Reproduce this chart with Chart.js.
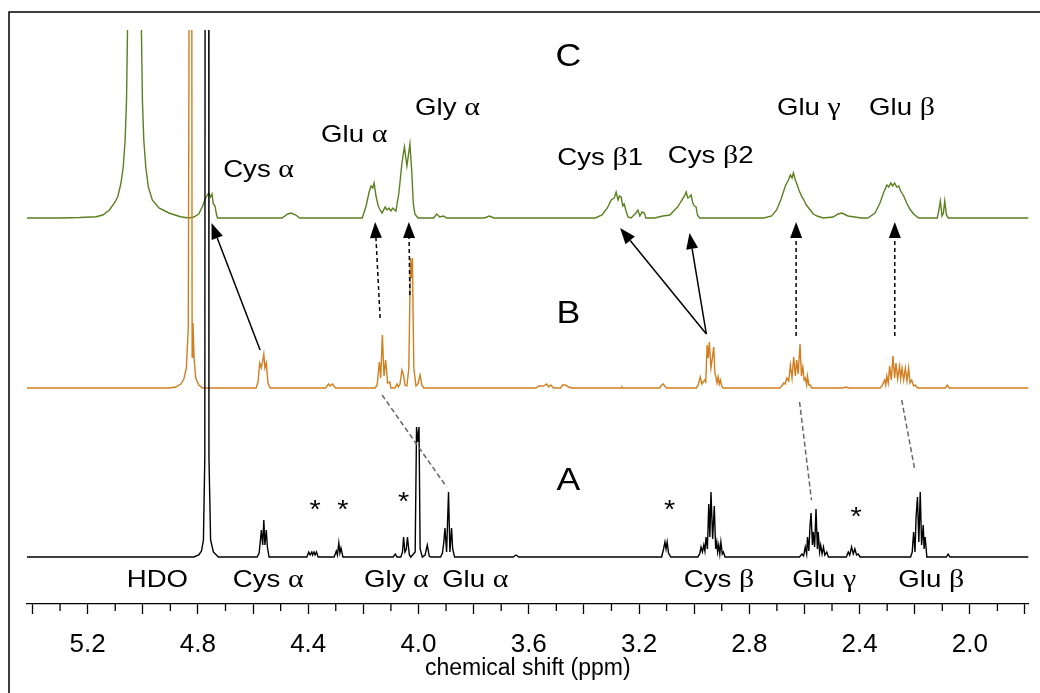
<!DOCTYPE html>
<html>
<head>
<meta charset="utf-8">
<script src="https://cdn.jsdelivr.net/npm/chart.js@4.4.0/dist/chart.umd.min.js"></script>
<style>
  body { margin: 0; background: #fff; }
  canvas { display: block; }
</style>
</head>
<body>
<canvas id="nmr" width="1040" height="693"></canvas>
<script>
// each spectrum is a list of [ppm, intensity] (intensity = arbitrary units above its baseline)
const spectrumA = [
  [5.42,0],[4.815,0],[4.797,2],[4.787,6],[4.780,17],[4.775,100],[4.772,1500],[4.767,3000],[4.762,1500],[4.760,100],[4.754,17],[4.744,5],[4.726,0],
  [4.585,0],[4.578,4],[4.574,15],[4.570,27],[4.565,12],[4.561,37],[4.557,12],[4.552,27],[4.548,10],[4.542,0],
  [4.405,0],[4.398,5],[4.393,2],[4.387,5],[4.384,2],[4.379,5],[4.375,2],[4.370,5],[4.364,0],
  [4.306,0],[4.298,6],[4.294,2],[4.289,14],[4.285,4],[4.281,9],[4.274,0],
  [4.092,0],[4.084,3],[4.078,0],
  [4.064,0],[4.058,5],[4.054,20],[4.049,5],[4.044,8],[4.040,20],[4.033,2],[4.028,0],[4.012,5],[4.007,130],[4.002,115],[3.998,130],[3.994,8],[3.986,0],[3.976,2],[3.968,12],[3.961,1],[3.956,0],
  [3.920,0],[3.913,4],[3.908,15],[3.904,29],[3.898,5],[3.891,65],[3.886,5],[3.880,29],[3.876,8],[3.869,0],
  [3.657,0],[3.646,2],[3.636,0],
  [3.118,0],[3.111,8],[3.106,15],[3.102,8],[3.098,15],[3.093,4],[3.085,0],
  [2.987,0],[2.980,3],[2.975,10],[2.970,5],[2.965,12],[2.961,6],[2.957,20],[2.952,8],[2.947,53],[2.943,20],[2.939,65],[2.933,18],[2.927,51],[2.922,8],[2.918,15],[2.915,5],[2.911,12],[2.907,3],[2.903,15],[2.898,3],[2.894,5],[2.888,0],
  [2.618,0],[2.609,3],[2.603,1],[2.597,10],[2.592,3],[2.589,20],[2.584,6],[2.580,30],[2.576,44],[2.571,12],[2.568,25],[2.563,10],[2.558,48],[2.553,8],[2.550,25],[2.545,5],[2.541,12],[2.536,3],[2.531,10],[2.526,2],[2.519,5],[2.513,0],
  [2.448,0],[2.441,5],[2.436,2],[2.429,10],[2.423,3],[2.417,8],[2.411,2],[2.405,3],[2.398,0],
  [2.215,0],[2.209,5],[2.204,25],[2.199,5],[2.195,40],[2.190,60],[2.185,15],[2.180,65],[2.175,12],[2.169,32],[2.166,8],[2.162,20],[2.156,0],
  [2.085,0],[2.079,3],[2.072,0],[1.787,0]
];

const spectrumB = [
  [5.42,0],[4.905,0],[4.880,1],[4.862,4],[4.851,9],[4.842,20],[4.835,60],[4.830,600],[4.826,1500],[4.823,600],[4.821,31],[4.818,65],[4.814,30],[4.808,10],[4.797,3],[4.783,0],
  [4.589,0],[4.582,6],[4.576,25],[4.570,20],[4.561,34],[4.557,20],[4.552,25],[4.546,5],[4.538,0],
  [4.337,0],[4.326,4],[4.320,2],[4.312,4],[4.301,0],
  [4.157,0],[4.150,3],[4.142,26],[4.137,10],[4.131,53],[4.125,12],[4.119,28],[4.112,5],[4.104,6],[4.100,0],
  [4.085,0],[4.078,4],[4.073,1],[4.067,4],[4.060,18],[4.055,14],[4.049,3],[4.042,2],[4.035,20],[4.029,130],[4.025,110],[4.022,130],[4.017,20],[4.009,2],[4.002,4],[3.994,13],[3.988,3],[3.981,0],
  [3.574,0],[3.564,2],[3.546,2],[3.535,4],[3.528,1],[3.520,3],[3.510,0],[3.485,0],[3.477,3],[3.467,3],[3.456,1],[3.445,0],
  [3.265,0],[3.262,1],[3.259,0],
  [3.125,0],[3.118,3],[3.112,4],[3.107,2],[3.100,0],
  [2.992,0],[2.985,3],[2.978,11],[2.972,4],[2.967,6],[2.962,8],[2.958,6],[2.953,43],[2.949,30],[2.945,46],[2.939,20],[2.934,30],[2.929,41],[2.925,15],[2.921,11],[2.917,5],[2.913,11],[2.909,4],[2.905,8],[2.900,2],[2.895,0],
  [2.690,0],[2.682,2],[2.675,5],[2.670,4],[2.664,10],[2.657,7],[2.651,23],[2.645,10],[2.639,31],[2.633,12],[2.628,28],[2.623,14],[2.616,44],[2.611,12],[2.606,21],[2.601,8],[2.597,10],[2.592,3],[2.589,12],[2.584,3],[2.579,3],[2.574,0],
  [2.459,0],[2.452,1],[2.437,0],
  [2.326,0],[2.319,2],[2.309,8],[2.305,3],[2.301,12],[2.296,5],[2.291,22],[2.285,8],[2.279,32],[2.273,10],[2.268,25],[2.262,9],[2.255,22],[2.251,9],[2.246,20],[2.240,8],[2.234,20],[2.228,7],[2.222,20],[2.217,5],[2.211,8],[2.204,2],[2.198,3],[2.190,0],
  [2.089,0],[2.082,3],[2.075,0],[1.787,0]
];

const spectrumC = [
  [5.42,0],[5.301,0],[5.229,0.5],[5.169,1.3],[5.145,3],[5.121,8],[5.103,15],[5.091,21],[5.079,35],[5.071,51],[5.064,78],[5.059,118],[5.0554,188],[5.051,600],[5.031,900],
  [5.012,600],[5.005,188],[5.0014,118],[4.9964,78],[4.9892,51],[4.9799,31],[4.9655,18],[4.9414,10],[4.9054,5],[4.8633,1.3],[4.8335,0],
  [4.815,1],[4.797,4],[4.783,12],[4.772,20],[4.761,25],[4.754,21],[4.749,24],[4.744,14],[4.738,12],[4.733,4],[4.729,0],
  [4.495,0],[4.474,4],[4.463,5],[4.445,3],[4.431,0],
  [4.204,0],[4.190,12],[4.179,26],[4.172,32],[4.166,30],[4.161,35],[4.154,22],[4.146,12],[4.139,8],[4.132,5],[4.121,11],[4.114,8],[4.107,10],[4.100,7],[4.093,10],[4.082,7],
  [4.071,25],[4.060,55],[4.051,71],[4.042,52],[4.031,74],[4.024,45],[4.019,15],[4.013,4],[4.002,0],
  [3.945,0],[3.934,4],[3.923,1],[3.909,2],[3.898,0],
  [3.761,0],[3.743,2],[3.726,0],
  [3.359,0],[3.334,3],[3.315,10],[3.301,18],[3.290,20],[3.283,26],[3.276,18],[3.271,22],[3.265,21],[3.259,12],[3.254,14],[3.247,7],[3.240,1],[3.229,0],
  [3.211,5],[3.204,8],[3.197,2],[3.189,6],[3.181,5],[3.175,0],
  [3.143,0],[3.114,2],[3.088,3],[3.071,8],[3.060,11],[3.049,16],[3.042,19],[3.035,22],[3.029,26],[3.023,20],[3.017,21],[3.011,23],[3.005,15],[2.999,12],[2.993,11],[2.988,3],[2.980,0],
  [2.747,0],[2.719,2],[2.701,8],[2.686,18],[2.668,33],[2.658,38],[2.651,43],[2.645,40],[2.640,45],[2.633,38],[2.626,33],[2.620,28],[2.611,22],[2.604,19],[2.593,13],[2.579,8],[2.568,4],[2.554,2],[2.532,0],
  [2.496,1],[2.478,4],[2.464,5],[2.442,2],[2.417,1],[2.395,0],
  [2.370,0],[2.344,5],[2.326,15],[2.312,26],[2.301,33],[2.294,31],[2.287,35],[2.280,32],[2.273,35],[2.265,31],[2.258,32],[2.251,27],[2.240,22],[2.229,15],[2.218,9],[2.204,4],[2.186,0],
  [2.118,0],[2.111,10],[2.107,17],[2.101,2],[2.096,5],[2.091,17],[2.085,3],[2.078,0],[1.787,0]
];

const spectra = [spectrumA, spectrumB, spectrumC];
const baselineOffsets = [47, 216, 386];          // A, B, C stacked
const seriesColors = ['#000000', '#d27d1e', '#5b8020'];

const majorTicks = [5.4, 5.2, 5.0, 4.8, 4.6, 4.4, 4.2, 4.0, 3.8, 3.6, 3.4, 3.2, 3.0, 2.8, 2.6, 2.4, 2.2, 2.0, 1.8];
const minorTicks = [5.3, 5.1, 4.9, 4.7, 4.5, 4.3, 4.1, 3.9, 3.7, 3.5, 3.3, 3.1, 2.9, 2.7, 2.5, 2.3, 2.1, 1.9];
const tickLabels = [5.2, 4.8, 4.4, 4.0, 3.6, 3.2, 2.8, 2.4, 2.0];

// annotations in data units: [text, ppm, height, fontSize]
const peakLabels = [
  ['C', 3.456, 538, 31], ['B', 3.456, 281, 31], ['A', 3.456, 114, 31],
  ['Cys α', 4.580, 427, 24], ['Glu α', 4.233, 462, 24], ['Gly α', 3.895, 489, 24],
  ['Cys β1', 3.341, 439, 24], ['Cys β2', 2.940, 441, 24], ['Glu γ', 2.584, 489, 24], ['Glu β', 2.246, 489, 24],
  ['HDO', 4.947, 17, 24], ['Cys α', 4.545, 17, 24], ['Gly α', 4.080, 17, 24], ['Glu α', 3.794, 17, 24],
  ['Cys β', 2.910, 17, 24], ['Glu γ', 2.528, 17, 24], ['Glu β', 2.140, 17, 24]
];
const impurityMarks = [[4.375, 99], [4.274, 99], [4.054, 107], [3.089, 99], [2.413, 92]];
// [fromPpm, fromH, toPpm, toH, dashed]
const shiftArrows = [
  [4.5745, 254, 4.7507, 381, false],
  [4.1392, 286, 4.1572, 382, true],
  [4.0313, 309, 4.0349, 382, true],
  [2.9558, 270, 3.2687, 376, false],
  [2.9558, 270, 3.0169, 371, false],
  [2.6302, 268, 2.6302, 382, true],
  [2.2723, 268, 2.2723, 382, true]
];
const shiftGuides = [
  [4.132, 209, 3.898, 117],
  [2.6176, 202, 2.5745, 104],
  [2.2471, 204, 2.1996, 134]
];

const SANS = '"Liberation Sans", Arial, sans-serif';
const SERIF = '"Liberation Serif", "Times New Roman", serif';
const TEXT_STRETCH = 1.15; // the figure's lettering is a little wider than plain Arial

function drawMixed(ctx, text, cx, y, size) {
  const runs = text.match(/[α-ω]+|[^α-ω]+/g);
  const fontOf = r => /[α-ω]/.test(r) ? (size + 2) + 'px ' + SERIF : size + 'px ' + SANS;
  let w = 0;
  runs.forEach(r => { ctx.font = fontOf(r); w += ctx.measureText(r).width; });
  ctx.save();
  ctx.translate(cx, y);
  ctx.scale(TEXT_STRETCH, 1);
  let x = -w / 2;
  runs.forEach(r => { ctx.font = fontOf(r); ctx.fillText(r, x, 0); x += ctx.measureText(r).width; });
  ctx.restore();
}

function drawArrow(ctx, x1, y1, x2, y2, dashed) {
  const a = Math.atan2(y2 - y1, x2 - x1);
  const hl = 16, hw = 6;
  const bx = x2 - hl * Math.cos(a), by = y2 - hl * Math.sin(a);
  ctx.setLineDash(dashed ? [4, 3] : []);
  ctx.beginPath(); ctx.moveTo(x1, y1); ctx.lineTo(bx, by); ctx.stroke();
  ctx.setLineDash([]);
  ctx.beginPath();
  ctx.moveTo(x2, y2);
  ctx.lineTo(bx + hw * Math.sin(a), by - hw * Math.cos(a));
  ctx.lineTo(bx - hw * Math.sin(a), by + hw * Math.cos(a));
  ctx.closePath(); ctx.fill();
}

const framePlugin = {
  id: 'frame',
  beforeDraw(chart) {
    const ctx = chart.ctx;
    ctx.save();
    ctx.fillStyle = '#fff';
    ctx.fillRect(0, 0, chart.width, chart.height);
    ctx.strokeStyle = '#000';
    ctx.lineWidth = 1.5;
    ctx.beginPath();
    ctx.moveTo(9, chart.height); ctx.lineTo(9, 12); ctx.lineTo(chart.width, 12);
    ctx.stroke();
    ctx.restore();
  }
};

const annotationPlugin = {
  id: 'annotations',
  afterDraw(chart) {
    const ctx = chart.ctx, xs = chart.scales.x, ys = chart.scales.y;
    const px = v => xs.getPixelForValue(v), py = v => ys.getPixelForValue(v);
    ctx.save();
    // minor ticks
    ctx.strokeStyle = '#000'; ctx.lineWidth = 1.3;
    const b = chart.chartArea.bottom;
    minorTicks.forEach(v => { ctx.beginPath(); ctx.moveTo(px(v), b); ctx.lineTo(px(v), b + 7); ctx.stroke(); });
    // guides between A and B
    ctx.strokeStyle = '#666'; ctx.lineWidth = 1.5; ctx.setLineDash([5, 3]);
    shiftGuides.forEach(g => { ctx.beginPath(); ctx.moveTo(px(g[0]), py(g[1])); ctx.lineTo(px(g[2]), py(g[3])); ctx.stroke(); });
    ctx.setLineDash([]);
    // arrows between B and C
    ctx.strokeStyle = '#000'; ctx.fillStyle = '#000'; ctx.lineWidth = 1.5;
    shiftArrows.forEach(a => drawArrow(ctx, px(a[0]), py(a[1]), px(a[2]), py(a[3]), a[4]));
    // labels
    ctx.textBaseline = 'alphabetic';
    ctx.textAlign = 'left';
    peakLabels.forEach(l => drawMixed(ctx, l[0], px(l[1]), py(l[2]), l[3]));
    impurityMarks.forEach(m => drawMixed(ctx, '*', px(m[0]), py(m[1]) + 13, 25));
    ctx.restore();
  }
};

new Chart(document.getElementById('nmr'), {
  type: 'line',
  data: {
    datasets: spectra.map((s, i) => ({
      data: s.map(p => ({ x: p[0], y: p[1] + baselineOffsets[i] })),
      borderColor: seriesColors[i],
      borderWidth: 1.4,
      pointRadius: 0,
      tension: 0,
      fill: false,
      clip: 0
    }))
  },
  options: {
    responsive: false,
    animation: false,
    layout: { padding: { left: 27, right: 3, top: 30, bottom: 0 } },
    plugins: { legend: { display: false }, tooltip: { enabled: false } },
    scales: {
      x: {
        type: 'linear',
        reverse: true,
        min: 1.787,
        max: 5.42,
        border: { display: true, color: '#000', width: 1.3 },
        grid: { drawOnChartArea: false, drawTicks: true, tickLength: 10, tickColor: '#000', tickWidth: 1.3 },
        afterBuildTicks: s => { s.ticks = majorTicks.map(v => ({ value: v })); },
        afterFit: s => { s.height = 89; },
        ticks: {
          autoSkip: false,
          maxRotation: 0,
          padding: 15,
          color: '#000',
          font: { family: SANS, size: 26 },
          callback: v => tickLabels.some(t => Math.abs(t - v) < 1e-6) ? v.toFixed(1) : ''
        },
        title: {
          display: true,
          text: 'chemical shift (ppm)',
          color: '#000',
          font: { family: SANS, size: 23 },
          padding: { top: 0, bottom: 11 }
        }
      },
      y: { type: 'linear', display: false, min: 0, max: 574 }
    }
  },
  plugins: [framePlugin, annotationPlugin]
});
</script>
</body>
</html>
